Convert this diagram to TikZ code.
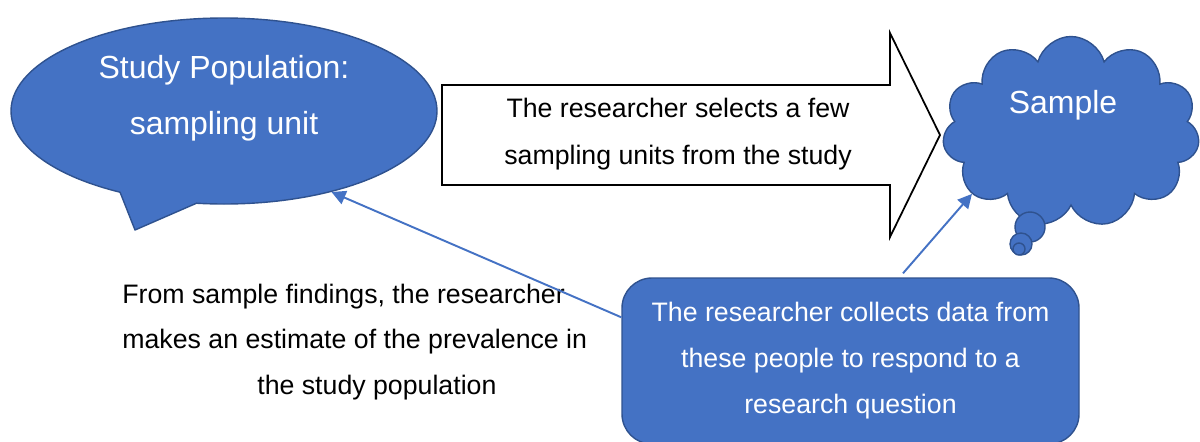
\documentclass[tikz,border=0pt]{standalone}
\usepackage{fontspec}
\setmainfont{Liberation Sans}
\usetikzlibrary{shapes.geometric,shapes.symbols,arrows.meta}
\definecolor{boxblue}{HTML}{4472C4}
\definecolor{edgeblue}{HTML}{2F528F}
\tikzset{
    bluebox/.style={fill=boxblue, draw=edgeblue, line width=0.8pt},
    whitetext/.style={text=white, align=center},
    link/.style={draw=boxblue, line width=1.1pt, -{Triangle[length=8pt,width=8pt]}},
}

\begin{document}
\begin{tikzpicture}
    \useasboundingbox (0,0) rectangle (24,8.82);

    % Study population (speech bubble)
    \node[bluebox, ellipse, minimum width=8.52cm, minimum height=3.72cm, inner sep=0pt] (pop) at (4.48,6.6) {};
    \fill[boxblue] (2.4,4.98) -- (2.7,4.22) -- (3.94,4.76) -- (3.9,5.05) -- (2.5,5.15) -- cycle;
    \draw[edgeblue, line width=0.8pt, line join=round] (2.4,4.98) -- (2.7,4.22) -- (3.94,4.76);
    \node[whitetext, font=\fontsize{18.2}{32}\selectfont] (popText) at (4.48,6.86) {Study Population:\\sampling unit};

    % Block arrow
    \draw[line width=1pt] (8.84,7.12) -- (17.8,7.12) -- (17.8,8.16) -- (18.8,6.12)
        -- (17.8,4.08) -- (17.8,5.12) -- (8.84,5.12) -- cycle;
    \node[align=center, font=\fontsize{15.2}{26.7}\selectfont] (selectText) at (13.56,6.13)
        {The researcher selects a few\\sampling units from the study};

    % Sample (thought cloud)
    \node[bluebox, cloud, cloud puffs=11, aspect=1.35, minimum width=5.14cm, minimum height=3.82cm] (sample) at (21.42,6.18) {};
    \draw[bluebox] (20.6,4.28) circle (0.3);
    \draw[bluebox] (20.42,3.94) circle (0.22);
    \draw[bluebox] (20.38,3.84) circle (0.12);
    \node[whitetext, font=\fontsize{18.2}{22}\selectfont] (sampleText) at (21.26,6.72) {Sample};

    % Data collection box
    \node[bluebox, whitetext, rounded corners=0.6cm, minimum width=9.14cm, minimum height=3.32cm,
        font=\fontsize{15.2}{26.2}\selectfont] (dataBox) at (17.01,1.6)
        {The researcher collects data from\\these people to respond to a\\research question};

    % Estimate text
    \node[anchor=west, align=left, inner sep=0pt, font=\fontsize{15.2}{25.9}\selectfont] (estText) at (2.44,1.98)
        {From sample findings, the researcher\\makes an estimate of the prevalence in\\\hspace*{2.7cm}the study population};

    % Links
    \draw[link] ([yshift=-0.8cm]dataBox.north west) -- (pop.323);
    \draw[link] ([xshift=1.05cm,yshift=0.08cm]dataBox.north) -- (sample.212);
\end{tikzpicture}
\end{document}
